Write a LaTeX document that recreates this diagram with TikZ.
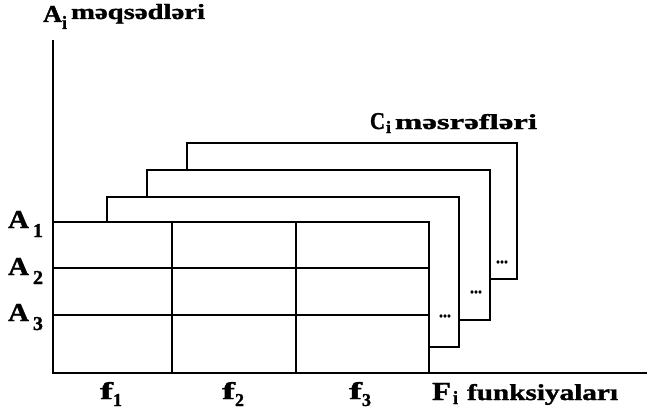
\documentclass[tikz,border=0pt]{standalone}
\usepackage{fontspec}
\setmainfont{Liberation Serif}[BoldFeatures={FakeBold=1.3}]
\usepackage{graphicx}
\newcommand\fitbox[3]{\resizebox{#1pt}{#2pt}{\bfseries #3}}
\begin{document}
\begin{tikzpicture}[x=1pt,y=-1pt,line width=1.6pt,
  lbl/.style={inner sep=0pt, outer sep=0pt, anchor=base west},
  dotlbl/.style={inner sep=0pt, anchor=center},
  frame/.style={line width=1.6pt, line join=miter}]
\useasboundingbox (0,0) rectangle (647,412);
% axes
\coordinate (ytop) at (53,40);
\coordinate (O) at (53,373);
\coordinate (xend) at (647,373);
\draw[frame] (ytop) -- (O) -- (xend);
% back frames
\coordinate (b3l) at (187,170);
\coordinate (b3r) at (517,143);
\coordinate (b3e) at (490,279);
\coordinate (b2l) at (147,197);
\coordinate (b2r) at (490,170);
\coordinate (b2e) at (459,320);
\coordinate (b1l) at (107,222);
\coordinate (b1r) at (459,197);
\coordinate (b1e) at (429,347);
\draw[frame] (b3l) |- (b3r) |- (b3e);
\draw[frame] (b2l) |- (b2r) |- (b2e);
\draw[frame] (b1l) |- (b1r) |- (b1e);
% table
\coordinate (t1l) at (53,222);
\coordinate (t1r) at (429,222);
\coordinate (t2l) at (53,268);
\coordinate (t2r) at (429,268);
\coordinate (t3l) at (53,315);
\coordinate (t3r) at (429,315);
\coordinate (c1t) at (172,222);
\coordinate (c1b) at (172,373);
\coordinate (c2t) at (296,222);
\coordinate (c2b) at (296,373);
\coordinate (c3b) at (429,373);
\draw[frame] (t1l) -- (t1r) -- (c3b);
\draw[frame] (t2l) -- (t2r);
\draw[frame] (t3l) -- (t3r);
\draw[frame] (c1t) -- (c1b);
\draw[frame] (c2t) -- (c2b);
% dots
\node[dotlbl] (d1) at (445,316) {\fitbox{12}{2.6}{...}};
\node[dotlbl] (d2) at (476,292) {\fitbox{12}{2.6}{...}};
\node[dotlbl] (d3) at (502,262) {\fitbox{12}{2.6}{...}};
% top label
\node[lbl] (atA) at (43,22) {\fitbox{19}{16}{A}};
\node[lbl] (atI) at (62,29) {\fitbox{5}{13}{i}};
\node[lbl] (atW) at (71,19) {\fitbox{134}{15}{məqsədləri}};
% row labels
\node[lbl] (a1) at (8,228) {\fitbox{21}{17}{A}};
\node[lbl] (a1s) at (33,237) {\fitbox{10}{13}{1}};
\node[lbl] (a2) at (8,275) {\fitbox{21}{17}{A}};
\node[lbl] (a2s) at (33,284) {\fitbox{10}{13}{2}};
\node[lbl] (a3) at (8,321) {\fitbox{21}{17}{A}};
\node[lbl] (a3s) at (33,330) {\fitbox{10}{13}{3}};
% C label
\node[lbl] (cC) at (370,129) {\fitbox{15}{16}{C}};
\node[lbl] (cI) at (386,133) {\fitbox{5}{12}{i}};
\node[lbl] (cW) at (395,129) {\fitbox{142}{15}{məsrəfləri}};
% F label
\node[lbl] (fF) at (432,400) {\fitbox{19}{17}{F}};
\node[lbl] (fI) at (453,404) {\fitbox{5}{13}{i}};
\node[lbl] (fW) at (467,400) {\fitbox{151}{16}{funksiyaları}};
% column labels
\node[lbl] (f1) at (100,399) {\fitbox{13}{17}{f}};
\node[lbl] (f1s) at (113,406) {\fitbox{9}{12}{1}};
\node[lbl] (f2) at (222,399) {\fitbox{13}{17}{f}};
\node[lbl] (f2s) at (235,406) {\fitbox{9}{12}{2}};
\node[lbl] (f3) at (349,399) {\fitbox{13}{17}{f}};
\node[lbl] (f3s) at (362,406) {\fitbox{9}{12}{3}};
\end{tikzpicture}
\end{document}
